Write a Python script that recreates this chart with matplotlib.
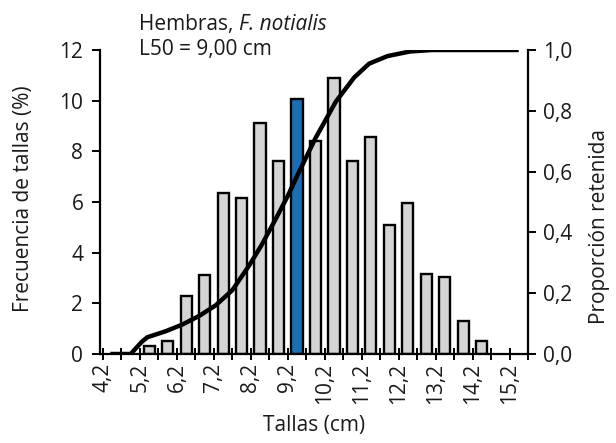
import numpy as np
import matplotlib
matplotlib.use('Agg')
import matplotlib.pyplot as plt

plt.rcParams['font.family'] = ['Open Sans', 'DejaVu Sans']

# clases de talla (centro de cada intervalo de 0,5 cm) y frecuencia (%)
centros = [5.45, 5.95, 6.45, 6.95, 7.45, 7.95, 8.45, 8.95, 9.45, 9.95,
           10.45, 10.95, 11.45, 11.95, 12.45, 12.95, 13.45, 13.95, 14.45]
frecuencia = [0.3, 0.5, 2.3, 3.1, 6.35, 6.15, 9.1, 7.6, 10.05, 8.4,
              10.9, 7.6, 8.55, 5.1, 5.95, 3.15, 3.05, 1.3, 0.5]
clase_l50 = 9.45

# curva de proporción retenida
curva_x = [4.4, 4.95, 5.1, 5.25, 5.4, 5.9, 6.35, 6.8, 7.25, 7.7, 8.15,
           8.5, 8.9, 9.2, 9.45, 9.95, 10.5, 11.0, 11.4, 11.9, 12.5, 13.1, 15.45]
curva_y = [0.0, 0.0, 0.02, 0.04, 0.055, 0.075, 0.097, 0.125, 0.16, 0.21, 0.29,
           0.36, 0.45, 0.52, 0.585, 0.71, 0.83, 0.91, 0.955, 0.98, 0.995, 1.0, 1.0]

etiquetas_x = ['4,2', '5,2', '6,2', '7,2', '8,2', '9,2', '10,2',
               '11,2', '12,2', '13,2', '14,2', '15,2']
etiquetas_izq = ['0', '2', '4', '6', '8', '10', '12']
etiquetas_der = ['0,0', '0,2', '0,4', '0,6', '0,8', '1,0']

texto = '#1a1a1a'
fs = 15

fig = plt.figure(figsize=(6.16, 4.43), dpi=100)
ax = fig.add_axes([100/616, 1 - 354/443, 428/616, 304/443])

colores = ['#1b6db4' if c == clase_l50 else '#d4d4d4' for c in centros]
ax.bar(centros, frecuencia, width=0.3, color=colores, edgecolor='black',
       linewidth=1.7, zorder=2)

ax.set_xlim(4.12, 15.7)
ax.set_ylim(0, 12)
ax.set_xticks(np.arange(4.2, 15.3, 1.0))
ax.set_xticklabels(etiquetas_x, rotation=90, fontsize=fs, color=texto)
ax.set_xticks(np.arange(4.7, 15.8, 1.0), minor=True)
ax.set_yticks(np.arange(0, 13, 2))
ax.set_yticklabels(etiquetas_izq, fontsize=fs, color=texto)
ax.tick_params(axis='x', which='both', direction='inout', length=9, width=1.4, pad=2)
ax.tick_params(axis='y', direction='out', length=6, width=1.4, pad=6)

ax2 = ax.twinx()
ax2.plot(curva_x, curva_y, color='black', lw=3.2, solid_joinstyle='round',
         solid_capstyle='butt', zorder=3)
ax2.set_ylim(0, 1)
ax2.set_yticks(np.arange(0, 1.01, 0.2))
ax2.set_yticklabels(etiquetas_der, fontsize=fs, color=texto)
ax2.tick_params(axis='y', direction='out', length=6, width=1.4, pad=5)

for a in (ax, ax2):
    a.spines['top'].set_visible(False)
    for s in a.spines.values():
        s.set_linewidth(1.6)
ax.spines['right'].set_visible(False)
ax2.spines['left'].set_visible(False)
ax2.spines['bottom'].set_visible(False)

ax.set_xlabel('Tallas (cm)', fontsize=fs, color=texto)
ax.xaxis.set_label_coords(0.5, -0.2)
ax.set_ylabel('Frecuencia de tallas (%)', fontsize=fs, color=texto, va='center')
ax.yaxis.set_label_coords(-0.178, 0.51)
ax2.set_ylabel('Proporción retenida', fontsize=fs, color=texto, va='center')
ax2.yaxis.set_label_coords(1.168, 0.418)

t1 = fig.text(139/616, 1 - 30/443, 'Hembras, ', fontsize=fs, color=texto, va='baseline')
ax.annotate('F. notialis', xy=(1, 0), xycoords=t1, va='bottom', ha='left',
            fontsize=fs, color=texto, style='italic')
fig.text(139/616, 1 - 55/443, 'L50 = 9,00 cm', fontsize=fs, color=texto, va='baseline')

fig.savefig('out.png', dpi=100)
